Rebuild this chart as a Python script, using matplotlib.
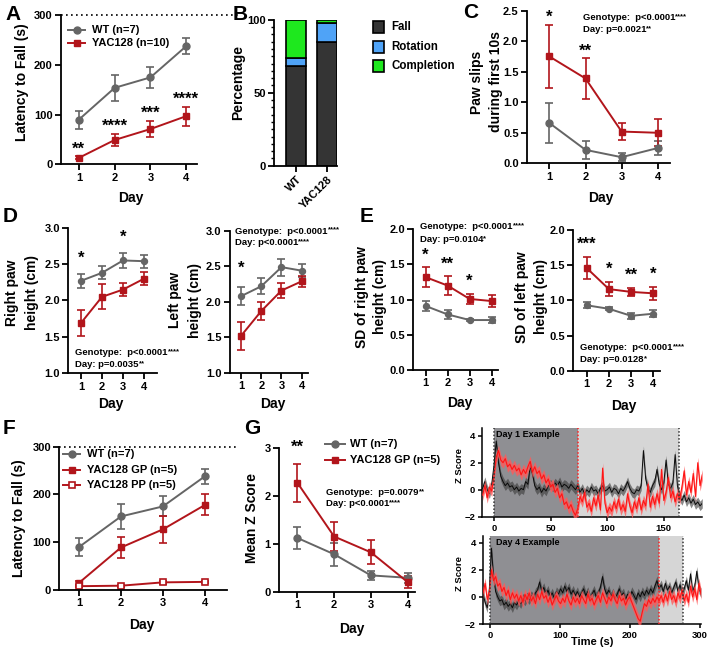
import numpy as np
import matplotlib
matplotlib.use("Agg")
import matplotlib.pyplot as plt
from matplotlib.lines import Line2D
from matplotlib.patches import Rectangle
from matplotlib.ticker import MultipleLocator, FormatStrFormatter

plt.rcParams['font.family'] = ['Liberation Sans', 'DejaVu Sans']
plt.rcParams['font.weight'] = 'bold'
plt.rcParams['axes.labelweight'] = 'bold'

# ---------------- data ----------------
days = [1, 2, 3, 4]

# A: latency to fall
a_wt = [90, 154, 175, 238]
a_wt_err = [18, 26, 21, 16]
a_yac = [13, 49, 71, 97]
a_yac_err = [3, 12, 17, 19]
a_stars = ["**", "****", "***", "****"]

# B: outcome percentages
b_groups = ["WT", "YAC128"]
b_fall = [68.5, 84.5]
b_rotation = [5.5, 13.2]
b_completion = [26.0, 2.3]
b_categories = ["Fall", "Rotation", "Completion"]

# C: paw slips
c_wt = [0.66, 0.22, 0.10, 0.25]
c_wt_err = [0.33, 0.15, 0.07, 0.12]
c_yac = [1.75, 1.39, 0.52, 0.50]
c_yac_err = [0.52, 0.33, 0.14, 0.22]
c_stars = ["*", "**", "", ""]
c_stats = ["Genotype:  p<0.0001", "Day: p=0.0021"]
c_stats_stars = ["****", "**"]

# D: paw heights
dr_wt = [2.27, 2.38, 2.55, 2.54]
dr_wt_err = [0.10, 0.09, 0.10, 0.09]
dr_yac = [1.69, 2.05, 2.15, 2.30]
dr_yac_err = [0.18, 0.17, 0.09, 0.09]
dr_stars = ["*", "", "*", ""]
dr_stats = ["Genotype:  p<0.0001", "Day: p=0.0035"]
dr_stats_stars = ["****", "**"]

dl_wt = [2.08, 2.22, 2.49, 2.44]
dl_wt_err = [0.13, 0.11, 0.12, 0.09]
dl_yac = [1.52, 1.87, 2.16, 2.29]
dl_yac_err = [0.20, 0.13, 0.11, 0.08]
dl_stars = ["*", "", "", ""]
dl_stats = ["Genotype:  p<0.0001", "Day: p<0.0001"]
dl_stats_stars = ["****", "****"]

# E: SD of paw heights
er_wt = [0.91, 0.79, 0.71, 0.71]
er_wt_err = [0.07, 0.06, 0.02, 0.04]
er_yac = [1.32, 1.20, 1.01, 0.98]
er_yac_err = [0.14, 0.13, 0.07, 0.08]
er_stars = ["*", "**", "*", ""]
er_stats = ["Genotype:  p<0.0001", "Day: p=0.0104"]
er_stats_stars = ["****", "*"]

el_wt = [0.93, 0.88, 0.78, 0.81]
el_wt_err = [0.04, 0.02, 0.04, 0.05]
el_yac = [1.46, 1.16, 1.12, 1.10]
el_yac_err = [0.16, 0.10, 0.06, 0.09]
el_stars = ["***", "*", "**", "*"]
el_stats = ["Genotype:  p<0.0001", "Day: p=0.0128"]
el_stats_stars = ["****", "*"]

# F: latency, GP vs PP
f_wt = [90, 154, 175, 238]
f_wt_err = [18, 26, 21, 16]
f_gp = [15, 89, 127, 178]
f_gp_err = [4, 21, 28, 22]
f_pp = [8, 9, 16, 17]
f_pp_err = [2, 2, 3, 2]
f_labels = ['WT (n=7)', 'YAC128 GP (n=5)', 'YAC128 PP (n=5)']

# G: mean Z score
g_wt = [1.12, 0.78, 0.34, 0.29]
g_wt_err = [0.23, 0.24, 0.10, 0.11]
g_yac = [2.27, 1.15, 0.82, 0.20]
g_yac_err = [0.40, 0.30, 0.25, 0.12]
g_stars = ["**", "", "", ""]
g_stats = ["Genotype:  p=0.0079", "Day: p<0.0001"]
g_stats_stars = ["**", "****"]
g_labels = ['WT (n=7)', 'YAC128 GP (n=5)']

# G traces (Z score examples)
d1_time = np.arange(-10, 185, 2)
d1_black = [0.1, 0.6, 0.0, -0.3, 0.4, 1.8, 3.6, 2.0, 1.0, 0.6, 0.3, 0.5, 0.2, 0.3, 0.0, 0.2,
            -0.1, 0.1, 0.0, 0.6, 0.4, 1.8, 1.2, 0.3, 0.0, 0.2, -0.2, 0.1, -0.1, 0.3, 0.4, 0.2,
            0.5, 0.3, 0.6, 0.2, 0.4, 0.3, 0.1, 0.4, 0.2, 0.0, 0.3, -0.2, 0.1, -0.3, 0.0, -0.2,
            0.2, -0.1, 0.0, -0.3, 0.1, 0.3, -0.1, 0.0, 0.2, -0.2, 0.1, 0.0, -0.3, 0.1, -0.1, 0.2,
            0.6, 0.1, -0.2, -0.3, 0.0, -0.1, 0.3, 2.9, 0.8, 0.1, -0.2, 0.3, 0.6, 1.5, 0.4, 0.0,
            0.5, 2.2, 0.4, 0.1, 0.5, 2.6, 0.3, -0.5, -0.8, -0.4, -0.9, -0.6, -1.0, -0.7, -1.1,
            -0.9, -1.2, -1.0]
d1_red = [-0.4, 0.3, -0.6, 0.2, -0.1, 1.0, 2.4, 2.9, 2.2, 2.0, 2.3, 1.7, 1.9, 1.5, 1.8, 1.4,
          1.6, 1.1, 1.5, 1.2, 1.7, 2.1, 1.3, 1.7, 1.2, 1.4, 0.8, 1.1, 0.5, 0.8, 0.2, 0.4,
          -0.2, 0.1, -0.6, -0.3, -1.1, -0.9, -1.4, -1.1, -1.6, -1.9, -1.4, -0.5, -0.9, -0.2,
          -1.3, -1.0, -1.6, -0.6, -1.2, -0.4, -1.5, 1.6, -1.0, -1.7, -1.3, -1.6, -0.9, -1.4,
          -0.7, -1.5, -1.1, -1.6, -0.3, -1.2, -1.7, -0.9, -1.4, -0.6, -1.5, -0.8, -1.2, 0.4,
          -1.3, -0.5, -1.1, -0.3, -1.0, 1.5, -0.8, -0.2, 0.9, -0.6, -0.1, -0.9, -0.3, -0.7,
          0.2, 1.4, -0.4, 0.6, -0.2, 1.2, -0.5, 2.0, 0.3, 1.1]
d1_events = [0, 74, 163]

d4_time = np.arange(-10, 303, 3)
d4_black = [0.2, -0.4, -0.8, 0.6, 3.6, 1.5, 0.4, 0.0, -0.3, -0.2, -0.6, -0.4, -0.7, -0.5, -0.8,
            -0.4, -0.6, -0.3, -0.5, -0.1, -0.3, 0.0, -0.2, 0.1, -0.1, 0.3, 0.5, 1.1, 0.4, 0.7,
            0.2, 0.5, 0.0, 0.3, -0.1, 0.4, 0.2, 0.6, 0.3, 0.8, 0.4, 0.7, 0.2, 0.5, 0.1, 0.4,
            0.0, 0.3, 0.6, 0.1, 0.4, -0.1, 0.2, 0.5, 0.0, 0.3, 0.7, 1.5, 0.6, 0.2, 0.5, 0.0,
            0.3, -0.1, 0.2, 0.6, 0.1, 0.3, -0.2, 0.2, 0.0, 0.4, 0.1, -0.2, 0.3, 0.0, 0.4, 0.1,
            0.5, 0.2, 0.6, 0.3, 0.8, 1.2, 0.6, 0.9, 0.4, 1.0, 0.5, 0.8, 0.3, 0.7, 1.1, 0.4,
            0.9, 0.2, 0.6, 1.2, 0.5, 1.7, 0.4, 0.8, 1.9, 0.6, 0.3]
d4_red = [0.3, 1.0, -0.2, 0.4, 2.0, 1.2, 1.5, 0.8, 1.0, 0.4, 0.7, 0.1, 0.5, -0.2, 0.3, -0.1,
          0.2, -0.3, 0.1, -0.4, 0.2, -0.2, 0.3, -0.3, 0.0, -0.5, 0.2, -0.2, 0.4, -0.1, 0.1,
          -0.4, 0.0, -0.6, -0.2, 0.1, -0.3, -0.5, -0.1, -0.4, 0.2, -0.3, -0.6, 0.0, -0.4,
          -0.1, -0.5, 0.1, -0.2, -0.5, 0.2, -0.3, -0.1, -0.6, -0.2, 0.1, -0.4, 0.3, -0.1,
          -0.5, 0.0, -0.3, 0.2, -0.2, -0.5, 0.1, -0.3, -0.1, -0.6, -0.2, 0.0, -0.4, -0.8,
          -1.2, -1.6, -1.8, -1.1, -0.5, -0.7, -0.2, -0.5, -0.1, -0.4, 0.0, -0.3, 0.1, -0.4,
          0.2, -0.3, 0.4, -0.2, 0.1, -0.4, 0.3, -0.1, 0.5, -0.3, 0.2, -0.4, 0.8, 0.0, 0.6,
          -0.2, 1.0, 0.2]
d4_events = [0, 242, 276]
sem_black = 0.35
sem_red = 0.4

# ---------------- styling ----------------
W, H = 709, 661
fig = plt.figure(figsize=(W / 100, H / 100), dpi=100)

WT_C = '#656565'
YAC_C = '#b2151b'


def rect(l, t, r, b):
    return [l / W, 1 - b / H, (r - l) / W, (b - t) / H]


def fx(x):
    return x / W


def fy(y):
    return 1 - y / H


def style_axes(ax, fs=8):
    for s in ('top', 'right'):
        ax.spines[s].set_visible(False)
    for s in ('left', 'bottom'):
        ax.spines[s].set_linewidth(1.3)
    ax.tick_params(direction='out', length=4, width=1.3, labelsize=fs, pad=2)


def ptext(x, y, s, **kw):
    kw.setdefault('ha', 'center')
    kw.setdefault('va', 'center')
    kw.setdefault('fontweight', 'bold')
    return fig.text(fx(x), fy(y), s, **kw)


def stats(x, y0, dy, lines, stars, fs=6.8):
    for i, (s, st) in enumerate(zip(lines, stars)):
        t = ptext(x, y0 + i * dy, s, ha='left', fontsize=fs)
        fig.add_artist(plt.Annotation(st, xy=(1, 1.0), xycoords=t, ha='left', va='top',
                                      fontsize=fs - 1.3, fontweight='bold'))


def legend_rows(x0, x1, tx, ys, labels, styles):
    """Legend drawn as key lines in figure space next to each label."""
    for y, lab, st in zip(ys, labels, styles):
        fig.add_artist(Line2D([fx(x0), fx(x1)], [fy(y), fy(y)], transform=fig.transFigure,
                              color=st['color'], lw=1.4))
        fig.add_artist(Line2D([fx((x0 + x1) / 2)], [fy(y)], transform=fig.transFigure,
                              ls='none', marker=st['marker'], ms=st.get('ms', 5),
                              color=st['color'], mfc=st.get('mfc', st['color']),
                              mec=st['color'], mew=st.get('mew', 1)))
        ptext(tx, y, lab, ha='left', fontsize=8)


WT_KW = dict(color=WT_C, marker='o', lw=1.4, capsize=2.6, elinewidth=1.2, capthick=1.2)
YAC_KW = dict(color=YAC_C, marker='s', lw=1.4, capsize=2.6, elinewidth=1.2, capthick=1.2)
PP_KW = dict(color=YAC_C, marker='s', mfc='white', mec=YAC_C, mew=1.2, lw=1.4, capsize=2.6,
             elinewidth=1.2, capthick=1.2)
LEG_WT = dict(color=WT_C, marker='o', ms=5)
LEG_YAC = dict(color=YAC_C, marker='s', ms=4.6)
LEG_PP = dict(color=YAC_C, marker='s', ms=4.6, mfc='white', mew=1.2)


def line_panel(px, xlim, ylim, yticks, fmt, series, stars=None, star_off=0, ms=5, ref=None):
    ax = fig.add_axes(rect(*px))
    for vals, errs, kw in series:
        k = dict(kw)
        k.setdefault('ms', ms if k.get('marker') == 'o' else ms - 0.4)
        ax.errorbar(days, vals, yerr=errs, **k)
    ax.set_xlim(*xlim)
    ax.set_ylim(*ylim)
    ax.set_xticks(days)
    ax.set_yticks(yticks)
    ax.yaxis.set_major_formatter(FormatStrFormatter(fmt))
    style_axes(ax)
    if stars:
        use = series if ref is None else [series[ref]]
        tops = [max(s[0][i] + s[1][i] for s in use) for i in range(4)]
        for d, s, top in zip(days, stars, tops):
            if s:
                ax.annotate(s, (d, top), xytext=(0, star_off * 0.72), textcoords='offset points',
                            ha='center', va='baseline', fontsize=12, fontweight='bold')
    return ax


# ---- A ----
axA = line_panel((61, 15.3, 197, 164.3), (0.5, 4.3), (0, 300), [0, 100, 200, 300], '%d',
                 [(a_wt, a_wt_err, WT_KW), (a_yac, a_yac_err, YAC_KW)], a_stars, 3, ref=1)
axA.axhline(300, 0, 1.3, color='k', ls=(0, (1, 2)), lw=1.2, clip_on=False)
legend_rows(68, 85, 92, [30, 43], ['WT (n=7)', 'YAC128 (n=10)'], [LEG_WT, LEG_YAC])
ptext(131, 198, 'Day', fontsize=10)
ptext(22, 82, 'Latency to Fall (s)', fontsize=10, rotation=90)
ptext(13, 14, 'A', fontsize=15)

# ---- B ----
axB = fig.add_axes(rect(274, 19.7, 337, 165.7))
bx = np.arange(len(b_groups))
bcols = ['#343434', '#4fa3f7', '#1ee81e']
bottom = np.zeros(2)
for vals, col in zip([b_fall, b_rotation, b_completion], bcols):
    axB.bar(bx, vals, width=0.645, bottom=bottom, color=col, edgecolor='black', lw=1.2)
    bottom = bottom + np.array(vals)
axB.set_xlim(-0.71, 1.32)
axB.set_ylim(0, 100)
axB.set_yticks([0, 50, 100])
axB.yaxis.set_minor_locator(MultipleLocator(5))
style_axes(axB)
axB.tick_params(axis='y', which='minor', length=2.2, width=1.0)
axB.set_xticks(bx)
axB.set_xticklabels(b_groups, rotation=45, ha='right', va='top', rotation_mode='anchor', fontsize=8)
for y, lab, col in zip([27, 47, 66], b_categories, bcols):
    fig.add_artist(Rectangle((fx(373), fy(y + 5.5)), 11 / W, 11 / H, transform=fig.transFigure,
                             facecolor=col, edgecolor='black', lw=1.2))
    ptext(391, y, lab, ha='left', fontsize=8.3)
ptext(238, 82, 'Percentage', fontsize=10, rotation=90)
ptext(240, 14, 'B', fontsize=15)

# ---- C ----
axC = line_panel((527, 10.7, 670, 163.3), (0.38, 4.34), (0, 2.5), [0, 0.5, 1.0, 1.5, 2.0, 2.5], '%.1f',
                 [(c_wt, c_wt_err, WT_KW), (c_yac, c_yac_err, YAC_KW)], c_stars, 3)
stats(582.7, 18, 11.3, c_stats, c_stats_stars)
ptext(601, 198, 'Day', fontsize=10)
ptext(486.5, 82, 'Paw slips\nduring first 10s', fontsize=10, rotation=90, linespacing=1.5)
ptext(471, 12, 'C', fontsize=15)

# ---- D ----
line_panel((68.3, 227.7, 156.7, 373.3), (0.4, 4.6), (1.0, 3.0), [1.0, 1.5, 2.0, 2.5, 3.0], '%.1f',
           [(dr_wt, dr_wt_err, WT_KW), (dr_yac, dr_yac_err, YAC_KW)], dr_stars, 11, ms=4.3)
stats(75.3, 352.7, 11.6, dr_stats, dr_stats_stars)
ptext(111, 404, 'Day', fontsize=10)
ptext(22, 293, 'Right paw\nheight (cm)', fontsize=10, rotation=90, linespacing=1.6)
line_panel((230, 231, 308, 372.7), (0.455, 4.31), (1.0, 3.0), [1.0, 1.5, 2.0, 2.5, 3.0], '%.1f',
           [(dl_wt, dl_wt_err, WT_KW), (dl_yac, dl_yac_err, YAC_KW)], dl_stars, 14, ms=4.3)
stats(235, 231, 11.3, dl_stats, dl_stats_stars)
ptext(273, 404, 'Day', fontsize=10)
ptext(185, 300, 'Left paw\nheight (cm)', fontsize=10, rotation=90, linespacing=1.6)
ptext(10, 217, 'D', fontsize=15)

# ---- E ----
line_panel((413.3, 229.3, 498, 370), (0.44, 4.29), (0, 2.0), [0, 0.5, 1.0, 1.5, 2.0], '%.1f',
           [(er_wt, er_wt_err, WT_KW), (er_yac, er_yac_err, YAC_KW)], er_stars, 8, ms=4.3)
stats(420, 226.7, 13.3, er_stats, er_stats_stars)
ptext(460, 402.7, 'Day', fontsize=10)
ptext(371, 297, 'SD of right paw\nheight (cm)', fontsize=10, rotation=90, linespacing=1.45)
line_panel((573.3, 230, 660, 370.7), (0.4, 4.3), (0, 2.0), [0, 0.5, 1.0, 1.5, 2.0], '%.1f',
           [(el_wt, el_wt_err, WT_KW), (el_yac, el_yac_err, YAC_KW)], el_stars, 8, ms=4.3)
stats(580, 347.7, 12.3, el_stats, el_stats_stars)
ptext(624, 406, 'Day', fontsize=10)
ptext(531.5, 297, 'SD of left paw\nheight (cm)', fontsize=10, rotation=90, linespacing=1.45)
ptext(367, 216, 'E', fontsize=15)

# ---- F ----
axF = line_panel((59.3, 446.7, 226.7, 590), (0.53, 4.52), (0, 300), [0, 100, 200, 300], '%d',
                 [(f_wt, f_wt_err, WT_KW), (f_gp, f_gp_err, YAC_KW), (f_pp, f_pp_err, PP_KW)])
axF.axhline(300, 0, 1.06, color='k', ls=(0, (1, 2)), lw=1.2, clip_on=False)
legend_rows(63, 80, 87.3, [454.3, 470, 485.3], f_labels, [LEG_WT, LEG_YAC, LEG_PP])
ptext(142, 625, 'Day', fontsize=10)
ptext(19, 518, 'Latency to Fall (s)', fontsize=10, rotation=90)
ptext(9, 428, 'F', fontsize=15)

# ---- G ----
axG = line_panel((279, 447.7, 415, 591.7), (0.5, 4.2), (0, 3), [0, 1, 2, 3], '%d',
                 [(g_wt, g_wt_err, WT_KW), (g_yac, g_yac_err, YAC_KW)], g_stars, 12)
stats(326, 492.7, 10.6, g_stats, g_stats_stars)
legend_rows(325, 345, 350, [444.3, 460], g_labels, [LEG_WT, LEG_YAC])
ptext(352, 629, 'Day', fontsize=10)
ptext(252.5, 518, 'Mean Z Score', fontsize=10, rotation=90)
ptext(252, 429, 'G', fontsize=15)


def trace_panel(px, xlim, ylim, xticks, t, black, red, events, label):
    ax = fig.add_axes(rect(*px))
    black = np.array(black)
    red = np.array(red)
    ax.axvspan(events[0], events[1], color='#8f8f93', lw=0, zorder=0)
    ax.axvspan(events[1], events[2], color='#d6d6d6', lw=0, zorder=0)
    ax.fill_between(t, black - sem_black, black + sem_black, color='#3a3a3a', alpha=0.6, lw=0, zorder=1)
    ax.plot(t, black, color='#0a0a0a', lw=0.7, zorder=2)
    ax.fill_between(t, red - sem_red, red + sem_red, color='#ff5a5a', alpha=0.8, lw=0, zorder=3)
    ax.plot(t, red, color='#ff1414', lw=0.8, zorder=4)
    ax.axvline(events[0], color='#333333', ls=(0, (1, 1.3)), lw=1.1, zorder=5)
    ax.axvline(events[1], color='#ff2020', ls=(0, (1, 1.3)), lw=1.1, zorder=5)
    ax.axvline(events[2], color='#333333', ls=(0, (1, 1.3)), lw=1.1, zorder=5)
    ax.set_xlim(*xlim)
    ax.set_ylim(*ylim)
    ax.set_xticks(xticks)
    ax.set_yticks([-2, 0, 2, 4])
    style_axes(ax, fs=6.8)
    ax.tick_params(length=3, width=1.1)
    for s in ('left', 'bottom'):
        ax.spines[s].set_linewidth(1.1)
    ax.text(0.06, 0.93, label, transform=ax.transAxes, fontsize=6.5, fontweight='bold',
            ha='left', va='center', zorder=6)
    return ax


trace_panel((482.3, 428.3, 702.3, 516.7), (-10.3, 184), (-2, 4.55), [0, 50, 100, 150],
            d1_time, d1_black, d1_red, d1_events, 'Day 1 Example')
trace_panel((482.7, 536, 701, 624), (-10.5, 302), (-2, 4.5), [0, 100, 200, 300],
            d4_time, d4_black, d4_red, d4_events, 'Day 4 Example')
ptext(459.5, 466, 'Z Score', fontsize=6.8, rotation=90)
ptext(459.5, 573.5, 'Z Score', fontsize=6.8, rotation=90)
ptext(591.7, 641.7, 'Time (s)', fontsize=8)

fig.savefig('out.png', dpi=100)
